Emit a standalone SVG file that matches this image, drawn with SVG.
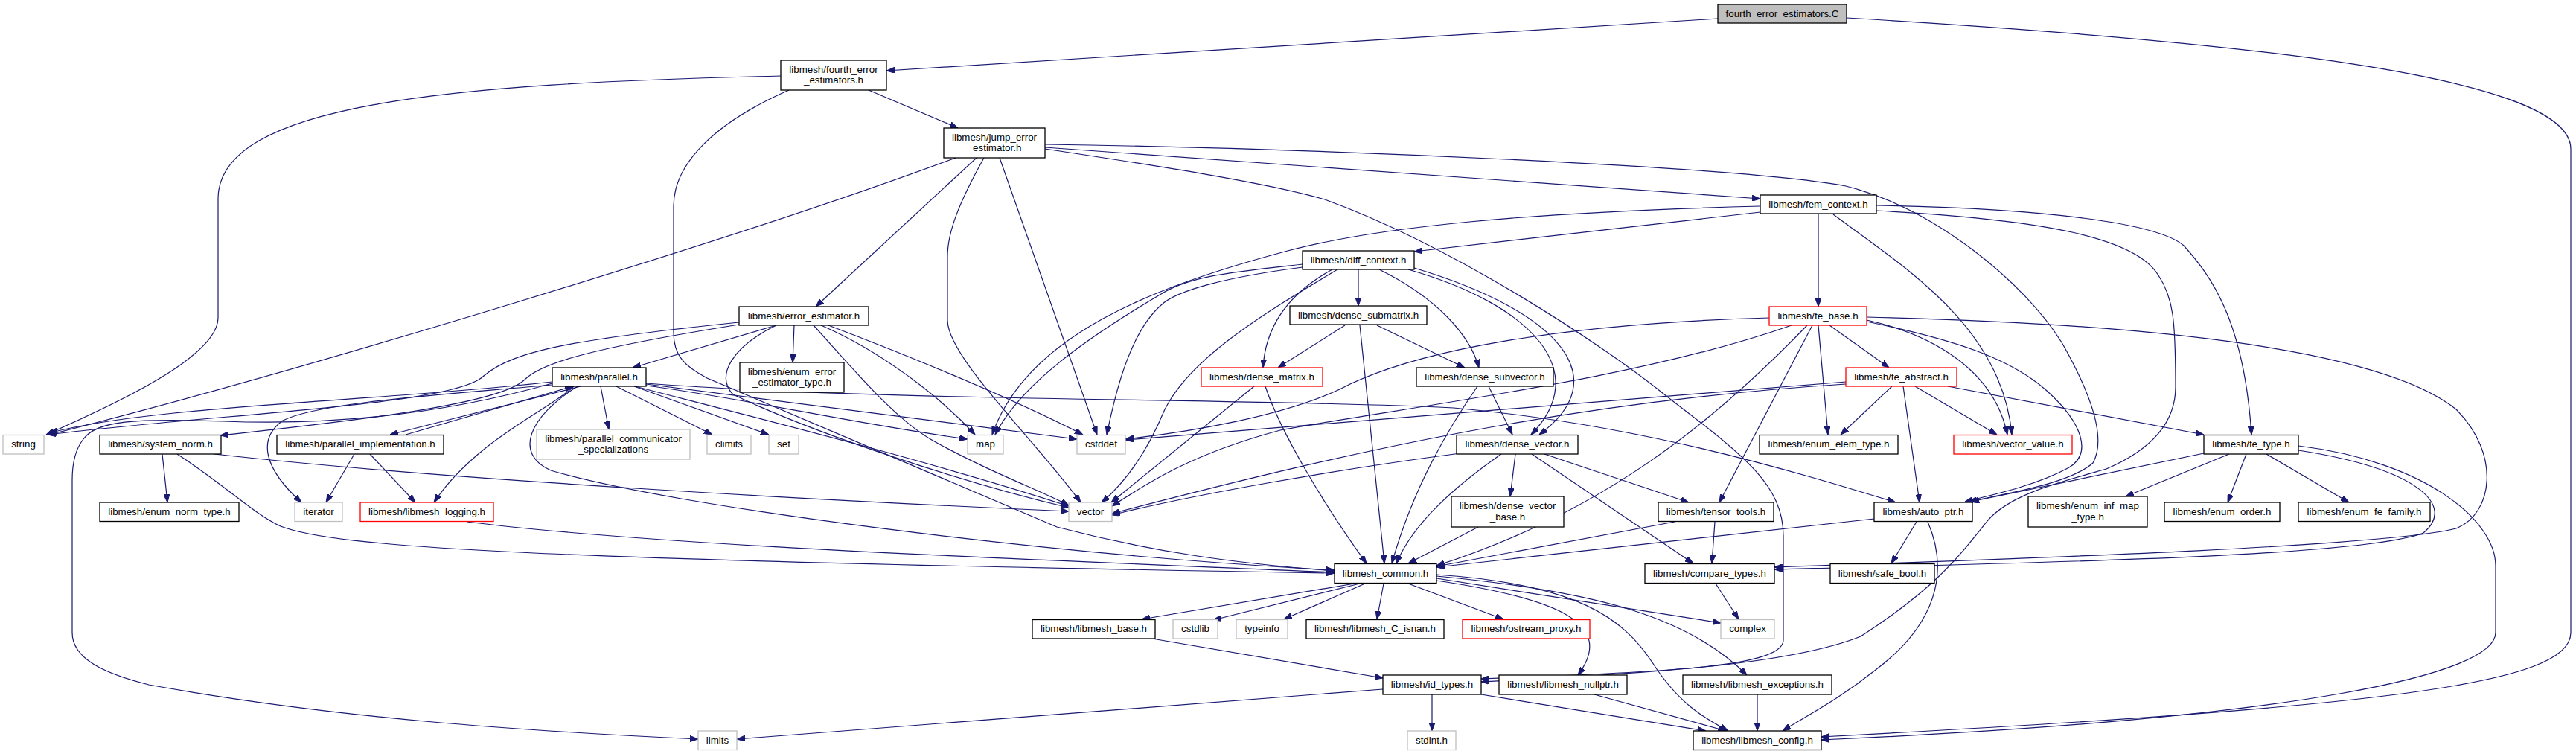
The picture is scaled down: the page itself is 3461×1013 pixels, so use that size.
<svg xmlns="http://www.w3.org/2000/svg" width="3461" height="1013" viewBox="0 0 3461 1013">
<style>
.n rect{fill:#fff;stroke:#000;stroke-width:1.3}
.n.r rect{stroke:#ff0000}
.n.g rect{stroke:#bfbfbf}
.n.root rect{fill:#bfbfbf}
.n text{font-family:"Liberation Sans",Arial,sans-serif;font-size:13.33px;text-anchor:middle;fill:#000}
#edges path{fill:none;stroke:#191970;stroke-width:1.2;marker-end:url(#a)}
</style>
<defs>
<marker id="a" markerWidth="11" markerHeight="8" refX="11" refY="4" orient="auto" markerUnits="userSpaceOnUse"><path d="M0,0 L11,4 L0,8 z" fill="#191970" stroke="#191970" stroke-width="1"/></marker>
</defs>
<rect width="3461" height="1013" fill="#fff"/>
<g id="edges">
<path d="M2308,25 L1191,95"/>
<path d="M2481,24 C3000,55 3454,100 3454,200 L3454,850 C3454,920 3200,950 2447,990"/>
<path d="M1049,102 C600,112 293,140 293,267 L293,427 C293,480 150,545 62,584"/>
<path d="M1167,121 L1287,172"/>
<path d="M1060,121 C960,165 905,220 905,277 L905,447 C905,478 920,492 950,508 L1420,708 C1550,742 1660,757 1793,767"/>
<path d="M1284,212 C1000,318 400,500 66,584"/>
<path d="M1312,212 L1096,412"/>
<path d="M1322,212 C1290,270 1273,310 1273,345 L1273,430 C1273,480 1390,590 1452,675"/>
<path d="M1343,212 L1474,584"/>
<path d="M1404,198 L2365,267"/>
<path d="M1404,194 C1800,200 2350,225 2480,250 C2600,280 2720,380 2770,460 C2810,530 2830,590 2812,622 C2780,650 2700,662 2645,674"/>
<path d="M1404,200 C1550,222 1700,245 1780,268 C1950,330 2150,460 2240,533 C2340,610 2396,650 2396,720 L2396,860 C2396,895 2250,903 1990,912"/>
<path d="M2365,285 L1900,338"/>
<path d="M2365,277 C2050,285 1850,305 1730,337 C1550,385 1380,450 1333,584"/>
<path d="M2443,287 L2443,412"/>
<path d="M2521,276 C2750,280 2900,300 2934,330 C2970,370 3015,430 3025,584"/>
<path d="M2463,288 C2560,360 2690,440 2703,584"/>
<path d="M2521,283 C2750,295 2870,320 2900,370 C2920,400 2923,430 2923,520 C2923,560 2900,600 2830,630 C2760,650 2700,665 2670,700 C2630,750 2600,790 2500,855 C2400,895 2200,905 1990,916"/>
<path d="M1825,362 L1825,411"/>
<path d="M1853,362 C1930,400 1975,450 1987,494"/>
<path d="M1892,362 C2060,410 2140,500 2057,584"/>
<path d="M1900,360 C2100,420 2170,510 2068,584"/>
<path d="M1750,355 C1660,365 1600,370 1560,395 C1450,460 1370,520 1337,584"/>
<path d="M1750,359 C1650,372 1580,390 1560,410 C1520,445 1500,520 1487,584"/>
<path d="M1797,362 C1700,420 1600,480 1565,550 C1540,610 1510,650 1480,675"/>
<path d="M1790,362 C1730,395 1700,440 1697,494"/>
<path d="M1807,437 L1717,494"/>
<path d="M1850,437 L1968,494"/>
<path d="M1827,437 L1860,757"/>
<path d="M1685,519 L1493,675"/>
<path d="M1700,519 C1720,580 1780,680 1836,757"/>
<path d="M2000,519 L2032,584"/>
<path d="M1985,519 C1950,570 1900,650 1870,757"/>
<path d="M1962,609 C1800,630 1600,665 1494,692"/>
<path d="M2036,610 L2029,667"/>
<path d="M2017,610 C1960,650 1900,700 1876,757"/>
<path d="M2075,610 L2269,675"/>
<path d="M2058,610 L2275,757"/>
<path d="M1986,708 L1892,757"/>
<path d="M2458,437 L2538,494"/>
<path d="M2443,437 L2456,584"/>
<path d="M2435,437 L2310,675"/>
<path d="M2428,437 C2300,570 2150,690 1930,760"/>
<path d="M2377,427 C2100,435 1900,470 1800,523 C1720,560 1600,580 1512,590"/>
<path d="M2407,437 C2200,510 1900,545 1720,578 C1600,610 1540,650 1494,680"/>
<path d="M2508,430 C2600,450 2680,500 2697,584"/>
<path d="M2508,432 C2620,455 2700,480 2750,525 C2800,570 2810,610 2780,628 C2740,650 2690,662 2640,674"/>
<path d="M2508,426 C2900,435 3200,470 3300,550 C3360,610 3350,690 3300,710 C3200,735 2700,751 2384,762"/>
<path d="M2480,513 L1512,591"/>
<path d="M2480,516 C2100,540 1800,610 1494,690"/>
<path d="M2542,519 L2473,584"/>
<path d="M2557,519 L2579,675"/>
<path d="M2573,519 L2683,584"/>
<path d="M2617,519 L2961,584"/>
<path d="M2961,609 L2648,674"/>
<path d="M2995,610 L2856,667"/>
<path d="M3018,610 L2993,675"/>
<path d="M3045,610 L3156,675"/>
<path d="M3088,605 C3250,630 3300,680 3256,716 C3180,746 2800,755 2384,765"/>
<path d="M3088,599 C3260,620 3353,700 3353,760 L3353,850 C3353,905 3100,965 2447,994"/>
<path d="M2575,701 L2541,757"/>
<path d="M2590,701 C2620,770 2600,840 2520,900 C2470,940 2430,960 2395,982"/>
<path d="M2518,697 L1930,762"/>
<path d="M2250,701 L1930,761"/>
<path d="M2304,701 L2300,757"/>
<path d="M2305,784 L2336,832"/>
<path d="M1820,784 L1534,832"/>
<path d="M1827,784 L1630,833"/>
<path d="M1834,784 L1725,832"/>
<path d="M1859,784 L1850,832"/>
<path d="M1892,784 L2020,832"/>
<path d="M1930,777 L2312,837"/>
<path d="M1930,780 C2100,805 2170,840 2120,907"/>
<path d="M1930,772 C2120,785 2180,830 2220,890 C2255,945 2290,965 2322,982"/>
<path d="M1930,774 C2150,795 2270,830 2347,907"/>
<path d="M1548,858 L1858,911"/>
<path d="M1924,933 L1924,982"/>
<path d="M1990,933 L2292,982"/>
<path d="M1858,926 L990,993"/>
<path d="M2142,933 L2319,982"/>
<path d="M2361,933 L2361,982"/>
<path d="M1067,437 L1065,487"/>
<path d="M1043,437 L850,494"/>
<path d="M993,433 C780,455 690,470 650,505 C610,545 300,555 64,584"/>
<path d="M993,436 C780,470 725,490 705,510 C670,545 450,568 296,585"/>
<path d="M1043,437 C985,465 960,505 985,530 C1100,585 1300,650 1436,682"/>
<path d="M1093,437 C1150,500 1200,560 1250,590 C1320,630 1400,660 1436,679"/>
<path d="M1103,437 C1180,470 1260,530 1310,584"/>
<path d="M1113,437 C1200,470 1350,530 1455,584"/>
<path d="M742,513 C500,540 200,545 66,582"/>
<path d="M742,515 C600,555 450,572 300,566 C180,562 130,565 112,590 C100,605 97,625 97,645 L97,850 C97,885 140,905 200,920 C450,965 700,982 938,993"/>
<path d="M780,519 L524,584"/>
<path d="M545,584 L770,519"/>
<path d="M742,517 C600,530 430,540 380,565 C345,590 355,630 405,675"/>
<path d="M771,519 C740,550 640,590 583,675"/>
<path d="M476,610 L438,675"/>
<path d="M497,610 L558,675"/>
<path d="M627,701 C900,735 1400,752 1793,769"/>
<path d="M218,610 L225,675"/>
<path d="M288,610 C600,645 1100,672 1436,687"/>
<path d="M238,610 C300,650 340,690 377,707 C450,735 700,752 1793,770"/>
<path d="M807,519 L818,577"/>
<path d="M828,519 L957,584"/>
<path d="M852,519 L1033,584"/>
<path d="M868,516 L1447,590"/>
<path d="M868,518 C1000,535 1150,570 1300,590"/>
<path d="M853,519 C1050,570 1250,620 1436,680"/>
<path d="M868,515 C1200,540 1700,535 1953,548 C2200,570 2400,630 2547,675"/>
<path d="M776,519 C710,560 690,610 740,632 C900,680 1400,745 1793,766"/>
</g>
<g id="n0" class="n root"><rect x="2308" y="6" width="173" height="25"/><text x="2394.5" y="23">fourth_error_estimators.C</text></g>
<g id="n1" class="n"><rect x="1049" y="81" width="142" height="40"/><text x="1120" y="97.6">libmesh/fourth_error</text><text x="1120" y="112">_estimators.h</text></g>
<g id="n2" class="n"><rect x="1268" y="172" width="136" height="40"/><text x="1336" y="188.6">libmesh/jump_error</text><text x="1336" y="203">_estimator.h</text></g>
<g id="n3" class="n"><rect x="2365" y="262" width="156" height="25"/><text x="2443" y="278.5">libmesh/fem_context.h</text></g>
<g id="n4" class="n"><rect x="1750" y="337" width="150" height="25"/><text x="1825" y="353.5">libmesh/diff_context.h</text></g>
<g id="n5" class="n"><rect x="993" y="412" width="174" height="25"/><text x="1080" y="428.5">libmesh/error_estimator.h</text></g>
<g id="n6" class="n"><rect x="1733" y="411" width="184" height="25"/><text x="1825" y="427.5">libmesh/dense_submatrix.h</text></g>
<g id="n7" class="n r"><rect x="2377" y="412" width="131" height="25"/><text x="2442.5" y="428.5">libmesh/fe_base.h</text></g>
<g id="n8" class="n"><rect x="742" y="494" width="126" height="25"/><text x="805" y="510.5">libmesh/parallel.h</text></g>
<g id="n9" class="n"><rect x="994" y="487" width="140" height="40"/><text x="1064" y="503.6">libmesh/enum_error</text><text x="1064" y="518">_estimator_type.h</text></g>
<g id="n10" class="n r"><rect x="1614" y="494" width="163" height="25"/><text x="1695.5" y="510.5">libmesh/dense_matrix.h</text></g>
<g id="n11" class="n"><rect x="1903" y="494" width="184" height="25"/><text x="1995" y="510.5">libmesh/dense_subvector.h</text></g>
<g id="n12" class="n r"><rect x="2480" y="494" width="149" height="25"/><text x="2554.5" y="510.5">libmesh/fe_abstract.h</text></g>
<g id="n13" class="n g"><rect x="4" y="584.5" width="55" height="25.5"/><text x="31.5" y="601">string</text></g>
<g id="n14" class="n"><rect x="134" y="584.5" width="163" height="25.5"/><text x="215.5" y="601">libmesh/system_norm.h</text></g>
<g id="n15" class="n"><rect x="372" y="584.5" width="224" height="25.5"/><text x="484" y="601">libmesh/parallel_implementation.h</text></g>
<g id="n16" class="n g"><rect x="721" y="577" width="206" height="40"/><text x="824" y="593.6">libmesh/parallel_communicator</text><text x="824" y="608">_specializations</text></g>
<g id="n17" class="n g"><rect x="950" y="584.5" width="59" height="25.5"/><text x="979.5" y="601">climits</text></g>
<g id="n18" class="n g"><rect x="1033" y="584.5" width="40" height="25.5"/><text x="1053" y="601">set</text></g>
<g id="n19" class="n g"><rect x="1300" y="584.5" width="48" height="25.5"/><text x="1324" y="601">map</text></g>
<g id="n20" class="n g"><rect x="1447" y="584.5" width="65" height="25.5"/><text x="1479.5" y="601">cstddef</text></g>
<g id="n21" class="n"><rect x="1957" y="584.5" width="163" height="25.5"/><text x="2038.5" y="601">libmesh/dense_vector.h</text></g>
<g id="n22" class="n"><rect x="2364" y="584.5" width="186" height="25.5"/><text x="2457" y="601">libmesh/enum_elem_type.h</text></g>
<g id="n23" class="n r"><rect x="2625" y="584.5" width="159" height="25.5"/><text x="2704.5" y="601">libmesh/vector_value.h</text></g>
<g id="n24" class="n"><rect x="2961" y="584.5" width="127" height="25.5"/><text x="3024.5" y="601">libmesh/fe_type.h</text></g>
<g id="n25" class="n"><rect x="134" y="675" width="187" height="25.5"/><text x="227.5" y="691.7">libmesh/enum_norm_type.h</text></g>
<g id="n26" class="n g"><rect x="396" y="675" width="64" height="25.5"/><text x="428" y="691.7">iterator</text></g>
<g id="n27" class="n r"><rect x="484" y="675" width="179" height="25.5"/><text x="573.5" y="691.7">libmesh/libmesh_logging.h</text></g>
<g id="n28" class="n g"><rect x="1436" y="675" width="58" height="25.5"/><text x="1465" y="691.7">vector</text></g>
<g id="n29" class="n"><rect x="1950" y="667" width="151" height="41"/><text x="2025.5" y="684">libmesh/dense_vector</text><text x="2025.5" y="698.5">_base.h</text></g>
<g id="n30" class="n"><rect x="2228" y="675" width="155" height="25.5"/><text x="2305.5" y="691.7">libmesh/tensor_tools.h</text></g>
<g id="n31" class="n"><rect x="2518" y="675" width="132" height="25.5"/><text x="2584" y="691.7">libmesh/auto_ptr.h</text></g>
<g id="n32" class="n"><rect x="2725" y="667" width="160" height="41"/><text x="2805" y="684">libmesh/enum_inf_map</text><text x="2805" y="698.5">_type.h</text></g>
<g id="n33" class="n"><rect x="2908" y="675" width="155" height="25.5"/><text x="2985.5" y="691.7">libmesh/enum_order.h</text></g>
<g id="n34" class="n"><rect x="3088" y="675" width="177" height="25.5"/><text x="3176.5" y="691.7">libmesh/enum_fe_family.h</text></g>
<g id="n35" class="n"><rect x="1793" y="757.5" width="137" height="26"/><text x="1861.5" y="774.5">libmesh_common.h</text></g>
<g id="n36" class="n"><rect x="2210" y="757.5" width="174" height="26"/><text x="2297" y="774.5">libmesh/compare_types.h</text></g>
<g id="n37" class="n"><rect x="2459" y="757.5" width="140" height="26"/><text x="2529" y="774.5">libmesh/safe_bool.h</text></g>
<g id="n38" class="n"><rect x="1387" y="832.5" width="165" height="25.5"/><text x="1469.5" y="849.2">libmesh/libmesh_base.h</text></g>
<g id="n39" class="n g"><rect x="1576" y="832.5" width="60" height="25.5"/><text x="1606" y="849.2">cstdlib</text></g>
<g id="n40" class="n g"><rect x="1661" y="832.5" width="69" height="25.5"/><text x="1695.5" y="849.2">typeinfo</text></g>
<g id="n41" class="n"><rect x="1755" y="832.5" width="185" height="25.5"/><text x="1847.5" y="849.2">libmesh/libmesh_C_isnan.h</text></g>
<g id="n42" class="n r"><rect x="1965" y="832.5" width="171" height="25.5"/><text x="2050.5" y="849.2">libmesh/ostream_proxy.h</text></g>
<g id="n43" class="n g"><rect x="2312" y="832.5" width="72" height="25.5"/><text x="2348" y="849.2">complex</text></g>
<g id="n44" class="n"><rect x="1858" y="907" width="132" height="26"/><text x="1924" y="924">libmesh/id_types.h</text></g>
<g id="n45" class="n"><rect x="2014" y="907" width="172" height="26"/><text x="2100" y="924">libmesh/libmesh_nullptr.h</text></g>
<g id="n46" class="n"><rect x="2261" y="907" width="200" height="26"/><text x="2361" y="924">libmesh/libmesh_exceptions.h</text></g>
<g id="n47" class="n g"><rect x="938" y="982" width="52" height="25.5"/><text x="964" y="998.7">limits</text></g>
<g id="n48" class="n g"><rect x="1891" y="982" width="65" height="25.5"/><text x="1923.5" y="998.7">stdint.h</text></g>
<g id="n49" class="n"><rect x="2275" y="982" width="172" height="25.5"/><text x="2361" y="998.7">libmesh/libmesh_config.h</text></g>
</svg>
